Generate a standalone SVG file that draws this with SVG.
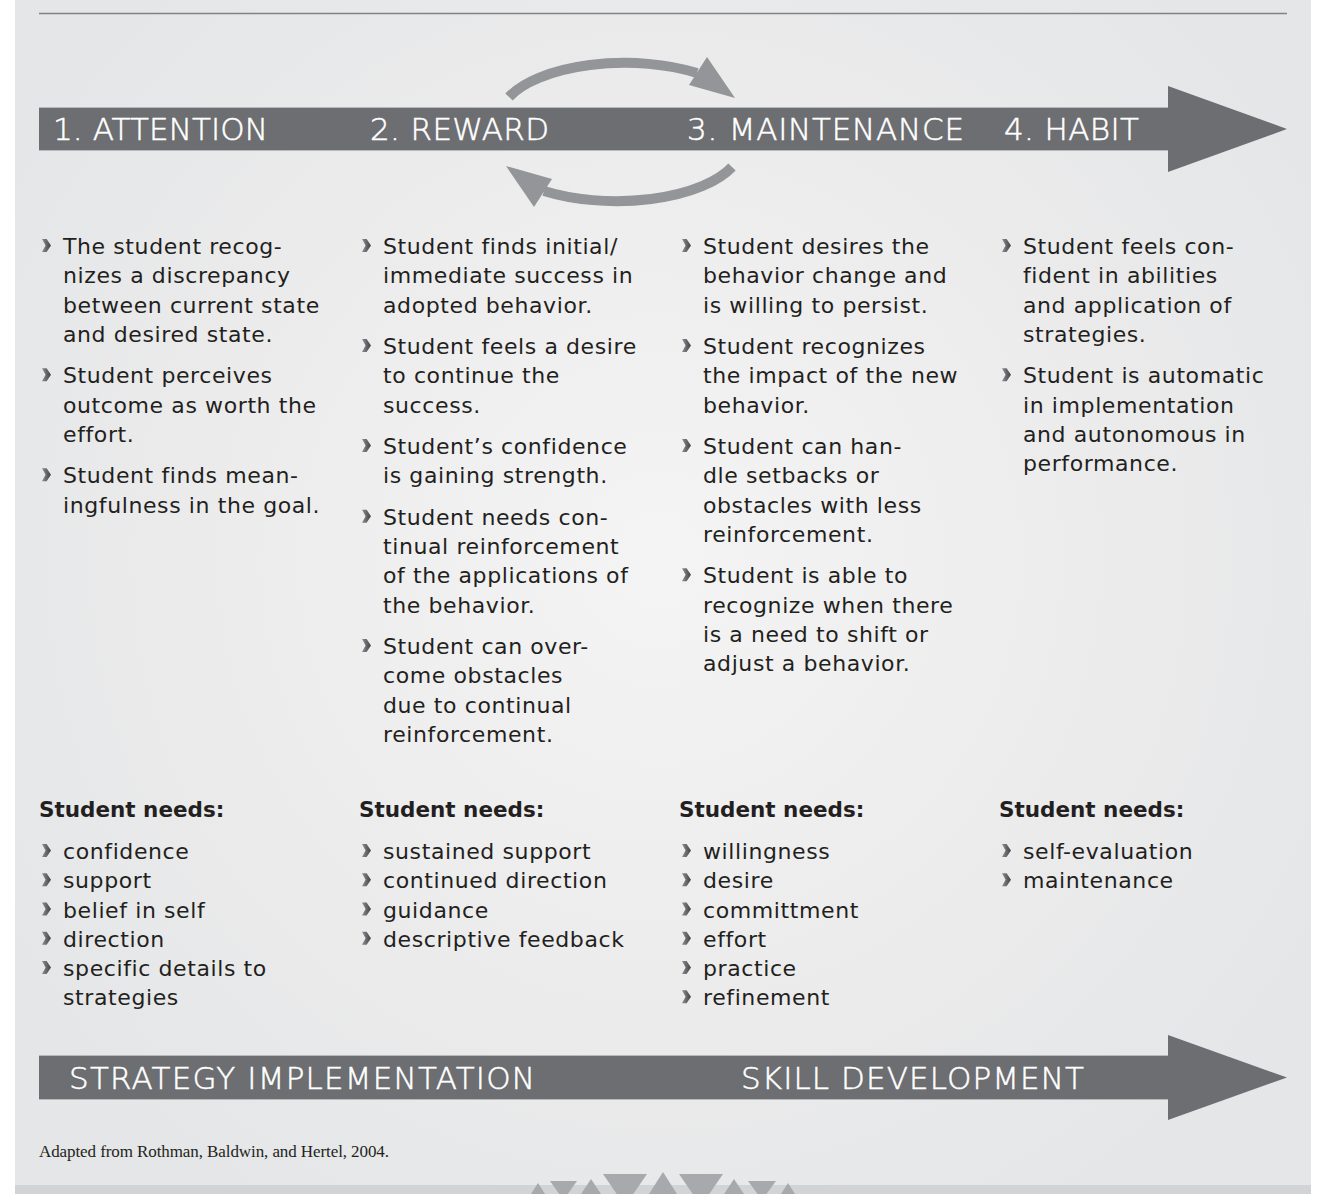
<svg xmlns="http://www.w3.org/2000/svg" width="1322" height="1194" viewBox="0 0 1322 1194">
<defs>
<radialGradient id="bg" cx="660" cy="560" r="760" gradientUnits="userSpaceOnUse">
<stop offset="0" stop-color="#f4f4f5"/>
<stop offset="0.55" stop-color="#ececed"/>
<stop offset="1" stop-color="#e5e6e7"/>
</radialGradient>
<linearGradient id="chev" x1="0" y1="0" x2="1" y2="0">
<stop offset="0" stop-color="#8d8e91"/>
<stop offset="1" stop-color="#414244"/>
</linearGradient>
<path id="b" d="M0,-15 L4.6,-15 L9,-8.5 L4.6,-2 L0,-2 L3.6,-8.5 Z" fill="url(#chev)"/>
</defs>
<style>
.t{font-family:"DejaVu Sans","Liberation Sans",sans-serif;font-size:22px;fill:#231f20;letter-spacing:0.6px}
.h{font-family:"DejaVu Sans","Liberation Sans",sans-serif;font-size:21.5px;font-weight:bold;fill:#231f20}
.w{font-family:"DejaVu Sans","Liberation Sans",sans-serif;font-size:31px;font-weight:300;fill:#ffffff;stroke:#ffffff;stroke-width:0.5px}
.c{font-family:"Liberation Serif","DejaVu Serif",serif;font-size:17px;fill:#231f20}
.bar{fill:#6d6e71}
.edge{stroke:#b8b9bb;stroke-width:1}
.arc{fill:none;stroke:#939598;stroke-width:10}
</style>
<rect x="0" y="0" width="1322" height="1194" fill="#ffffff"/>
<rect x="15" y="0" width="1296" height="1194" fill="url(#bg)"/>
<rect x="15" y="1185" width="1296" height="9" fill="#d1d3d4"/>
<line x1="39" y1="13.5" x2="1287" y2="13.5" stroke="#808285" stroke-width="1.5"/>

<g id="stage-arrow">
<polygon class="bar" points="39,108 1168,108 1168,86 1287,129 1168,172 1168,150 39,150"/>
<line class="edge" x1="39" y1="107.5" x2="1168" y2="107.5"/>
<line class="edge" x1="39" y1="150.5" x2="1168" y2="150.5"/>
<text class="w" x="53" y="139.5" textLength="215">1. ATTENTION</text>
<text class="w" x="370" y="139.5" textLength="179">2. REWARD</text>
<text class="w" x="687" y="139.5" textLength="277">3. MAINTENANCE</text>
<text class="w" x="1004" y="139.5" textLength="135">4. HABIT</text>
</g>

<g id="connectors">
<g id="cycle-top">
<path class="arc" d="M509,97 A125,55 0 0 1 697,73"/>
<polygon fill="#939598" points="707,57 735,98 689,85"/>
</g>
<g id="cycle-bottom" transform="rotate(180 620.5 132)">
<path class="arc" d="M509,97 A125,55 0 0 1 697,73"/>
<polygon fill="#939598" points="707,57 735,98 689,85"/>
</g>
</g>

<g id="col-attention">
<use href="#b" x="42" y="254"/>
<text class="t" x="63" y="254">The student recog-</text>
<text class="t" x="63" y="283.25">nizes a discrepancy</text>
<text class="t" x="63" y="312.5">between current state</text>
<text class="t" x="63" y="341.75">and desired state.</text>
<use href="#b" x="42" y="383.25"/>
<text class="t" x="63" y="383.25">Student perceives</text>
<text class="t" x="63" y="412.5">outcome as worth the</text>
<text class="t" x="63" y="441.75">effort.</text>
<use href="#b" x="42" y="483.25"/>
<text class="t" x="63" y="483.25">Student finds mean-</text>
<text class="t" x="63" y="512.5">ingfulness in the goal.</text>
</g>

<g id="col-reward">
<use href="#b" x="362" y="254"/>
<text class="t" x="383" y="254">Student finds initial/</text>
<text class="t" x="383" y="283.25">immediate success in</text>
<text class="t" x="383" y="312.5">adopted behavior.</text>
<use href="#b" x="362" y="354"/>
<text class="t" x="383" y="354">Student feels a desire</text>
<text class="t" x="383" y="383.25">to continue the</text>
<text class="t" x="383" y="412.5">success.</text>
<use href="#b" x="362" y="454"/>
<text class="t" x="383" y="454">Student’s confidence</text>
<text class="t" x="383" y="483.25">is gaining strength.</text>
<use href="#b" x="362" y="524.75"/>
<text class="t" x="383" y="524.75">Student needs con-</text>
<text class="t" x="383" y="554">tinual reinforcement</text>
<text class="t" x="383" y="583.25">of the applications of</text>
<text class="t" x="383" y="612.5">the behavior.</text>
<use href="#b" x="362" y="654"/>
<text class="t" x="383" y="654">Student can over-</text>
<text class="t" x="383" y="683.25">come obstacles</text>
<text class="t" x="383" y="712.5">due to continual</text>
<text class="t" x="383" y="741.75">reinforcement.</text>
</g>

<g id="col-maintenance">
<use href="#b" x="682" y="254"/>
<text class="t" x="703" y="254">Student desires the</text>
<text class="t" x="703" y="283.25">behavior change and</text>
<text class="t" x="703" y="312.5">is willing to persist.</text>
<use href="#b" x="682" y="354"/>
<text class="t" x="703" y="354">Student recognizes</text>
<text class="t" x="703" y="383.25">the impact of the new</text>
<text class="t" x="703" y="412.5">behavior.</text>
<use href="#b" x="682" y="454"/>
<text class="t" x="703" y="454">Student can han-</text>
<text class="t" x="703" y="483.25">dle setbacks or</text>
<text class="t" x="703" y="512.5">obstacles with less</text>
<text class="t" x="703" y="541.75">reinforcement.</text>
<use href="#b" x="682" y="583.25"/>
<text class="t" x="703" y="583.25">Student is able to</text>
<text class="t" x="703" y="612.5">recognize when there</text>
<text class="t" x="703" y="641.75">is a need to shift or</text>
<text class="t" x="703" y="671">adjust a behavior.</text>
</g>

<g id="col-habit">
<use href="#b" x="1002" y="254"/>
<text class="t" x="1023" y="254">Student feels con-</text>
<text class="t" x="1023" y="283.25">fident in abilities</text>
<text class="t" x="1023" y="312.5">and application of</text>
<text class="t" x="1023" y="341.75">strategies.</text>
<use href="#b" x="1002" y="383.25"/>
<text class="t" x="1023" y="383.25">Student is automatic</text>
<text class="t" x="1023" y="412.5">in implementation</text>
<text class="t" x="1023" y="441.75">and autonomous in</text>
<text class="t" x="1023" y="471">performance.</text>
</g>

<g id="needs-attention">
<text class="h" x="39" y="817">Student needs:</text>
<use href="#b" x="42" y="859"/><text class="t" x="63" y="859">confidence</text>
<use href="#b" x="42" y="888.25"/><text class="t" x="63" y="888.25">support</text>
<use href="#b" x="42" y="917.5"/><text class="t" x="63" y="917.5">belief in self</text>
<use href="#b" x="42" y="946.75"/><text class="t" x="63" y="946.75">direction</text>
<use href="#b" x="42" y="976"/><text class="t" x="63" y="976">specific details to</text>
<text class="t" x="63" y="1005.25">strategies</text>
</g>

<g id="needs-reward">
<text class="h" x="359" y="817">Student needs:</text>
<use href="#b" x="362" y="859"/><text class="t" x="383" y="859">sustained support</text>
<use href="#b" x="362" y="888.25"/><text class="t" x="383" y="888.25">continued direction</text>
<use href="#b" x="362" y="917.5"/><text class="t" x="383" y="917.5">guidance</text>
<use href="#b" x="362" y="946.75"/><text class="t" x="383" y="946.75">descriptive feedback</text>
</g>

<g id="needs-maintenance">
<text class="h" x="679" y="817">Student needs:</text>
<use href="#b" x="682" y="859"/><text class="t" x="703" y="859">willingness</text>
<use href="#b" x="682" y="888.25"/><text class="t" x="703" y="888.25">desire</text>
<use href="#b" x="682" y="917.5"/><text class="t" x="703" y="917.5">committment</text>
<use href="#b" x="682" y="946.75"/><text class="t" x="703" y="946.75">effort</text>
<use href="#b" x="682" y="976"/><text class="t" x="703" y="976">practice</text>
<use href="#b" x="682" y="1005.25"/><text class="t" x="703" y="1005.25">refinement</text>
</g>

<g id="needs-habit">
<text class="h" x="999" y="817">Student needs:</text>
<use href="#b" x="1002" y="859"/><text class="t" x="1023" y="859">self-evaluation</text>
<use href="#b" x="1002" y="888.25"/><text class="t" x="1023" y="888.25">maintenance</text>
</g>

<g id="progress-arrow">
<polygon class="bar" points="39,1056 1168,1056 1168,1035 1287,1077.5 1168,1120 1168,1099 39,1099"/>
<line class="edge" x1="39" y1="1055.5" x2="1168" y2="1055.5"/>
<line class="edge" x1="39" y1="1099.5" x2="1168" y2="1099.5"/>
<text class="w" x="69" y="1088.5" textLength="466">STRATEGY IMPLEMENTATION</text>
<text class="w" x="741" y="1088.5" textLength="343">SKILL DEVELOPMENT</text>
</g>

<text class="c" x="39" y="1157" textLength="350">Adapted from Rothman, Baldwin, and Hertel, 2004.</text>

<g id="ornament" fill="#a7a9ac">
<polygon points="538,1183 531,1194 545,1194"/>
<polygon points="550,1181 577,1181 563.5,1200"/>
<polygon points="591,1179 581,1194 601,1194"/>
<polygon points="603,1174 647,1174 625,1206"/>
<polygon points="663,1172 649,1194 677,1194"/>
<polygon points="679,1174 723,1174 701,1206"/>
<polygon points="734,1179 724,1194 744,1194"/>
<polygon points="748,1181 776,1181 762,1200"/>
<polygon points="788,1183 781,1194 795,1194"/>
</g>
</svg>
